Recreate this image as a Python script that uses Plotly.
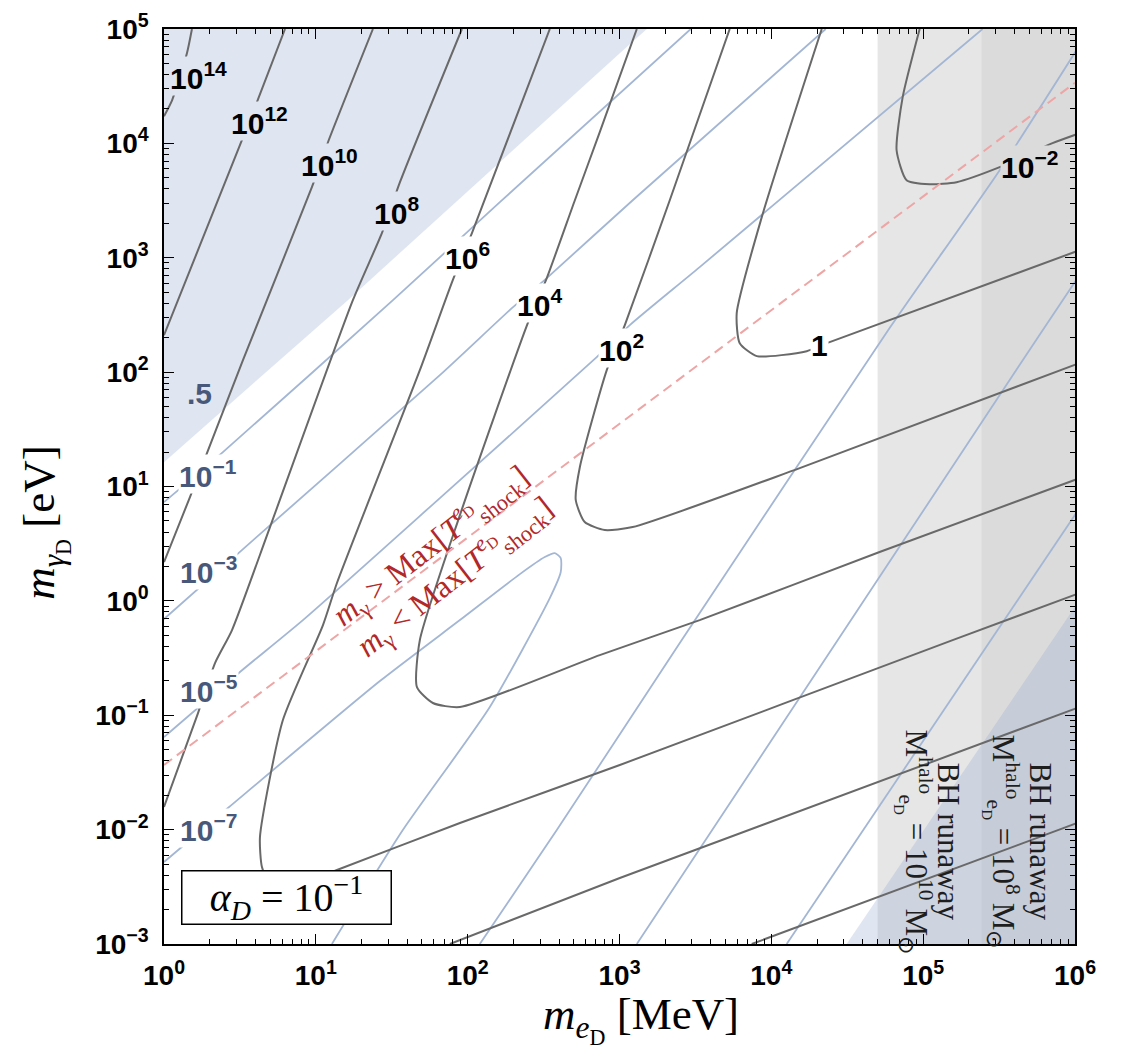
import numpy as np
import plotly.graph_objects as go

# ---------------- data (log10 m_eD [MeV], log10 m_gammaD [eV]) ----------------
# gray contours
g14_x = [0.184, 0.151, 0.053, 0.0]
g14_y = [5.0, 4.788, 4.377, 4.238]
g12_x = [0.797, 0.612, 0.500, 0.237, 0.0]
g12_y = [5.0, 4.360, 3.984, 3.110, 2.323]
g10_x = [1.376, 1.080, 0.974, 0.520, 0.283, 0.171, 0.0]
g10_y = [5.0, 4.010, 3.617, 2.105, 1.292, 0.907, 0.339]
g10low_x = [3.871, 6.03]
g10low_y = [-3.0, -1.934]
g8_x = [1.962, 1.554, 1.435, 1.244, 0.698, 0.448, 0.336, 0.224, 0.0]
g8_y = [5.0, 3.661, 3.215, 2.629, 0.645, -0.255, -0.544, -0.981, -1.802]
g8low_x = [1.883, 3.002, 6.03]
g8low_y = [-3.0, -2.423, -0.928]
g6_x = [2.541, 2.028, 1.902, 1.685, 1.139, 1.047, 0.783, 0.632, 0.645, 0.685, 0.797, 0.961, 1.139, 1.949, 3.002, 5.194, 6.03]
g6_y = [5.0, 3.215, 2.804, 2.017, 0.156, -0.212, -1.042, -2.065, -2.327, -2.441, -2.502, -2.441, -2.353, -1.942, -1.435, -0.343, 0.068]
g4_x = [3.114, 2.870, 2.706, 2.521, 2.396, 1.949, 1.685, 1.666, 1.771, 1.949, 2.870, 3.528, 4.713, 6.03]
g4_y = [5.0, 4.098, 3.503, 2.822, 2.428, 0.750, -0.343, -0.754, -0.893, -0.928, -0.474, -0.168, 0.427, 1.073]
g2_x = [3.726, 3.331, 3.035, 2.916, 2.739, 2.712, 2.771, 2.903, 3.087, 4.187, 6.03]
g2_y = [5.0, 3.503, 2.411, 2.017, 1.170, 0.881, 0.689, 0.619, 0.645, 1.161, 2.079]
g0_x = [4.332, 3.937, 3.772, 3.792, 3.904, 4.233, 4.384, 6.03]
g0_y = [5.0, 3.355, 2.516, 2.253, 2.140, 2.183, 2.262, 3.066]
gm2_x = [4.977, 4.865, 4.825, 4.891, 5.043, 5.220, 5.504, 5.852, 6.03]
gm2_y = [5.0, 4.404, 3.940, 3.678, 3.643, 3.661, 3.792, 4.002, 4.089]

# blue contours
b1_x = [0.0, 0.388, 1.508, 2.212, 3.469]
b1_y = [0.864, 1.301, 2.629, 3.486, 5.0]
b1s_x = [4.101, 6.03]
b1s_y = [-3.0, 0.811]
b3_x = [0.0, 0.513, 1.817, 2.291, 2.521, 3.087, 4.358]
b3_y = [-0.159, 0.444, 1.974, 2.559, 2.822, 3.503, 5.0]
b3s_x = [3.114, 5.787, 6.03]
b3s_y = [-3.0, 2.367, 2.848]
b5_x = [0.0, 0.500, 0.915, 1.817, 2.850, 3.068, 3.528, 5.391]
b5_y = [-1.191, -0.622, -0.168, 0.899, 2.131, 2.411, 2.918, 5.0]
b5s_x = [2.080, 2.587, 3.397, 4.779, 5.504, 6.03]
b5s_y = [-3.0, -2.004, -0.369, 2.385, 3.766, 4.858]
b7_x = [0.0, 0.421, 1.422, 1.949, 2.344, 2.508, 2.574, 2.613, 2.613, 2.541, 2.146, 1.573, 1.106]
b7_y = [-2.283, -1.811, -0.701, -0.168, 0.234, 0.383, 0.418, 0.374, 0.252, 0.024, -0.928, -2.004, -3.0]

# shaded regions (contour 0.5) and BH runaway bands
shade_tl_x = [0.0, 1.211, 3.002, 3.180, 0.0]
shade_tl_y = [1.213, 2.629, 4.788, 5.0, 5.0]
shade_br_x = [4.496, 6.03, 6.03]
shade_br_y = [-3.0, 0.007, -3.0]
band10_lo, band8_lo = 4.70, 5.385

# red dashed line m_gamma = Max[T_shock]
red_x = [0.0, 6.0]
red_y = [-1.435, 4.53]

# labels: (text, log x, log y, background)
gray_labels = [("10<sup>14</sup>", 0.230, 4.587, "s"), ("10<sup>12</sup>", 0.632, 4.194, "s"),
               ("10<sup>10</sup>", 1.093, 3.827, "s"), ("10<sup>8</sup>", 1.534, 3.407, "s"),
               ("10<sup>6</sup>", 2.001, 3.014, "w"), ("10<sup>4</sup>", 2.475, 2.603, "w"),
               ("10<sup>2</sup>", 3.015, 2.210, "w"), ("1", 4.319, 2.236, "w"),
               ("10<sup>−2</sup>", 5.701, 3.809, "b")]
blue_labels = [(".5", 0.237, 1.816, "s"), ("10<sup>−1</sup>", 0.290, 1.108, "w"),
               ("10<sup>−3</sup>", 0.296, 0.269, "w"), ("10<sup>−5</sup>", 0.296, -0.771, "w"),
               ("10<sup>−7</sup>", 0.296, -1.986, "w")]

xtick_exp = [0, 1, 2, 3, 4, 5, 6]
ytick_exp = [-3, -2, -1, 0, 1, 2, 3, 4, 5]

# ---------------- figure ----------------
GRAY = "rgb(105,105,105)"
BLUE = "rgb(163,182,212)"
SHADE = "rgba(150,170,210,0.30)"
SHADE_SOLID = "rgb(223,229,241)"
BAND1 = "rgb(230,230,230)"
BAND2 = "rgb(219,219,219)"

fig = go.Figure()

def P(v):
    return [10 ** a for a in v]

def poly(xs, ys, color):
    fig.add_trace(go.Scatter(x=P(xs), y=P(ys), mode="lines", fill="toself",
                             fillcolor=color, line=dict(width=0), hoverinfo="skip",
                             showlegend=False))

poly([band10_lo, 6.03, 6.03, band10_lo], [-3.1, -3.1, 5.1, 5.1], BAND1)
poly([band8_lo, 6.03, 6.03, band8_lo], [-3.1, -3.1, 5.1, 5.1], BAND2)
poly(shade_tl_x, shade_tl_y, SHADE)
poly(shade_br_x, shade_br_y, SHADE)

def line(xs, ys, color, width):
    fig.add_trace(go.Scatter(x=P(xs), y=P(ys), mode="lines",
                             line=dict(color=color, width=width, shape="spline", smoothing=0.6),
                             hoverinfo="skip", showlegend=False))

for xs, ys in [(b1_x, b1_y), (b1s_x, b1s_y), (b3_x, b3_y), (b3s_x, b3s_y),
               (b5_x, b5_y), (b5s_x, b5s_y), (b7_x, b7_y)]:
    line(xs, ys, BLUE, 1.8)

for xs, ys in [(g14_x, g14_y), (g12_x, g12_y), (g10_x, g10_y), (g10low_x, g10low_y),
               (g8_x, g8_y), (g8low_x, g8low_y), (g6_x, g6_y), (g4_x, g4_y),
               (g2_x, g2_y), (g0_x, g0_y), (gm2_x, gm2_y)]:
    line(xs, ys, GRAY, 2.0)

fig.add_trace(go.Scatter(x=P(red_x), y=P(red_y), mode="lines",
                         line=dict(color="rgb(238,165,165)", width=2, dash="10px,6px"),
                         hoverinfo="skip", showlegend=False))

bgmap = {"s": SHADE_SOLID, "w": "white", "b": BAND2}
ann = []
for t, lx, ly, bg in gray_labels:
    ann.append(dict(x=lx, y=ly, xref="x", yref="y", text="<b>" + t + "</b>", showarrow=False,
                    xanchor="center", yanchor="middle",
                    font=dict(family="Liberation Sans", size=30, color="black"),
                    bgcolor=bgmap[bg], borderpad=0))
for t, lx, ly, bg in blue_labels:
    ann.append(dict(x=lx, y=ly, xref="x", yref="y", text="<b>" + t + "</b>", showarrow=False,
                    xanchor="center", yanchor="middle",
                    font=dict(family="Liberation Sans", size=30, color="rgb(72,88,122)"),
                    bgcolor=bgmap[bg], borderpad=0))

RED = "rgb(178,40,40)"
ann.append(dict(x=1.751, y=0.488, xref="x", yref="y", showarrow=False, textangle=-38,
                xanchor="center", yanchor="middle",
                text="<i>m</i><sub>γ</sub> > Max[<i>T</i><sup><i>e</i><sub>D</sub></sup><sub>shock</sub>]",
                font=dict(family="Liberation Serif", size=32, color=RED)))
ann.append(dict(x=1.909, y=0.217, xref="x", yref="y", showarrow=False, textangle=-38,
                xanchor="center", yanchor="middle",
                text="<i>m</i><sub>γ</sub> < Max[<i>T</i><sup><i>e</i><sub>D</sub></sup><sub>shock</sub>]",
                font=dict(family="Liberation Serif", size=32, color=RED)))

ann.append(dict(x=0.1345, y=0.0503, xref="paper", yref="paper", showarrow=False,
                xanchor="center", yanchor="middle",
                text="<i>α</i><sub><i>D</i></sub> = 10<sup>−1</sup>",
                font=dict(family="Liberation Serif", size=40, color="black"),
                bgcolor="white", bordercolor="black", borderwidth=1.5, width=206, height=50))

BHF = dict(family="Liberation Serif", size=31, color="rgb(30,30,30)")
bh_texts = [(0.8607, "BH runaway"),
            (0.8244, "M<sup>halo</sup><sub>e<sub>D</sub></sub> = 10<sup>10</sup> M<sub>⊙</sub>"),
            (0.9617, "BH runaway"),
            (0.9209, "M<sup>halo</sup><sub>e<sub>D</sub></sub> = 10<sup>8</sup> M<sub>⊙</sub>")]
for px_, t in bh_texts:
    ann.append(dict(x=px_, y=0.112, xref="paper", yref="paper", showarrow=False, textangle=90,
                    xanchor="center", yanchor="middle", text=t, font=BHF))

ann.append(dict(x=0.524, y=-0.083, xref="paper", yref="paper", showarrow=False,
                xanchor="center", yanchor="middle",
                text="<i>m</i><sub><i>e</i><sub>D</sub></sub> [MeV]",
                font=dict(family="Liberation Serif", size=45, color="black")))
ann.append(dict(x=-0.131, y=0.461, xref="paper", yref="paper", showarrow=False, textangle=-90,
                xanchor="center", yanchor="middle",
                text="<i>m</i><sub><i>γ</i><sub>D</sub></sub> [eV]",
                font=dict(family="Liberation Serif", size=45, color="black")))

def minor_vals(lo, hi):
    return [m * 10.0 ** k for k in range(lo, hi) for m in range(2, 10)]

axis_common = dict(type="log", showgrid=False, zeroline=False, showline=True, linecolor="black",
                   linewidth=1.5, mirror="ticks", ticks="inside", ticklen=10, tickwidth=1.3,
                   tickcolor="black", tickmode="array", automargin=False,
                   tickfont=dict(family="Liberation Sans", size=28, color="black", weight="bold"))

fig.update_layout(
    width=1112, height=1043, autosize=False,
    margin=dict(l=156, r=45, t=21, b=107),
    plot_bgcolor="white", paper_bgcolor="white",
    xaxis=dict(range=[0, 6], tickvals=[10.0 ** e for e in xtick_exp],
               ticktext=["10<sup>%s</sup>" % str(e).replace("-", "−") for e in xtick_exp],
               minor=dict(tickmode="array", tickvals=minor_vals(0, 6), ticks="inside",
                          ticklen=5, tickwidth=1, tickcolor="black"),
               ticklabelstandoff=6, **axis_common),
    yaxis=dict(range=[-3, 5], tickvals=[10.0 ** e for e in ytick_exp],
               ticktext=["10<sup>%s</sup>" % str(e).replace("-", "−") for e in ytick_exp],
               minor=dict(tickmode="array", tickvals=minor_vals(-3, 5), ticks="inside",
                          ticklen=5, tickwidth=1, tickcolor="black"),
               ticklabelstandoff=8, **axis_common),
    annotations=ann,
)

fig.write_html("out.html")
